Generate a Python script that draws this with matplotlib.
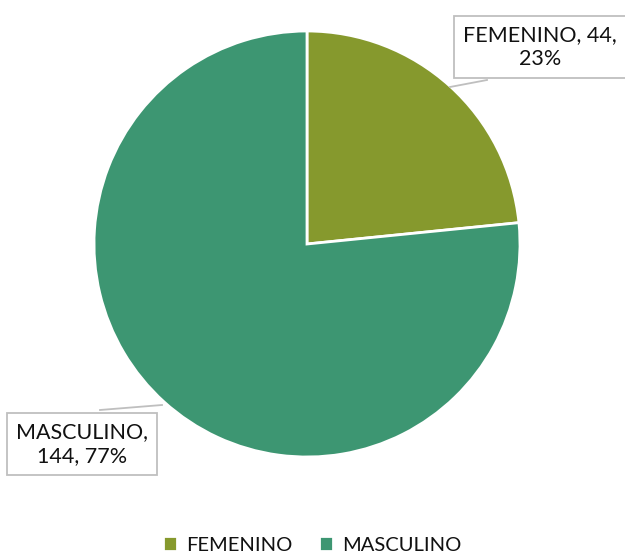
import matplotlib.pyplot as plt

labels = ["FEMENINO", "MASCULINO"]
values = [44, 144]
percents = [23, 77]
colors = ["#86992D", "#3D9672"]

plt.rcParams['font.family'] = ['Lato', 'DejaVu Sans']

fig = plt.figure(figsize=(6.25, 5.54), dpi=100)
W, H = 625, 554
cx, cy, r = 307, 244, 213
ax = fig.add_axes([(cx - r) / W, (H - cy - r) / H, 2 * r / W, 2 * r / H])

wedges, _ = ax.pie(values, colors=colors, startangle=90, counterclock=False,
                   wedgeprops=dict(edgecolor="white", linewidth=2))
ax.set_xlim(-1, 1)
ax.set_ylim(-1, 1)
ax.set_aspect("equal")
ax.axis("off")


def to_data(px, py):
    return (px - cx) / r, (cy - py) / r


# etiquetas con líneas guía
lab_pos = [(540, 47), (82, 444)]
lines = [[(450, 87), (487, 80)], [(162, 405), (100, 410)]]
texts = [f"{labels[0]}, {values[0]},\n{percents[0]}%",
         f"{labels[1]},\n{values[1]}, {percents[1]}%"]
for (px, py), seg, t in zip(lab_pos, lines, texts):
    x, y = to_data(px, py)
    ax.text(x, y, t, ha="center", va="center", fontsize=15.5, color="#111111",
            linespacing=1.3, clip_on=False,
            bbox=dict(boxstyle="square,pad=0.42", fc="white", ec="#BFBFBF", lw=1.3))
    (x0, y0), (x1, y1) = to_data(*seg[0]), to_data(*seg[1])
    ax.plot([x0, x1], [y0, y1], color="#BFBFBF", lw=1.3, clip_on=False)

fig.legend(wedges, labels, loc="center", bbox_to_anchor=(0.5, 1 - 545 / H),
           ncol=2, frameon=False, fontsize=14.5, handlelength=0.7, handleheight=0.7,
           handletextpad=0.45, columnspacing=1.3, labelcolor="#111111")

fig.savefig("out.png", dpi=100)
